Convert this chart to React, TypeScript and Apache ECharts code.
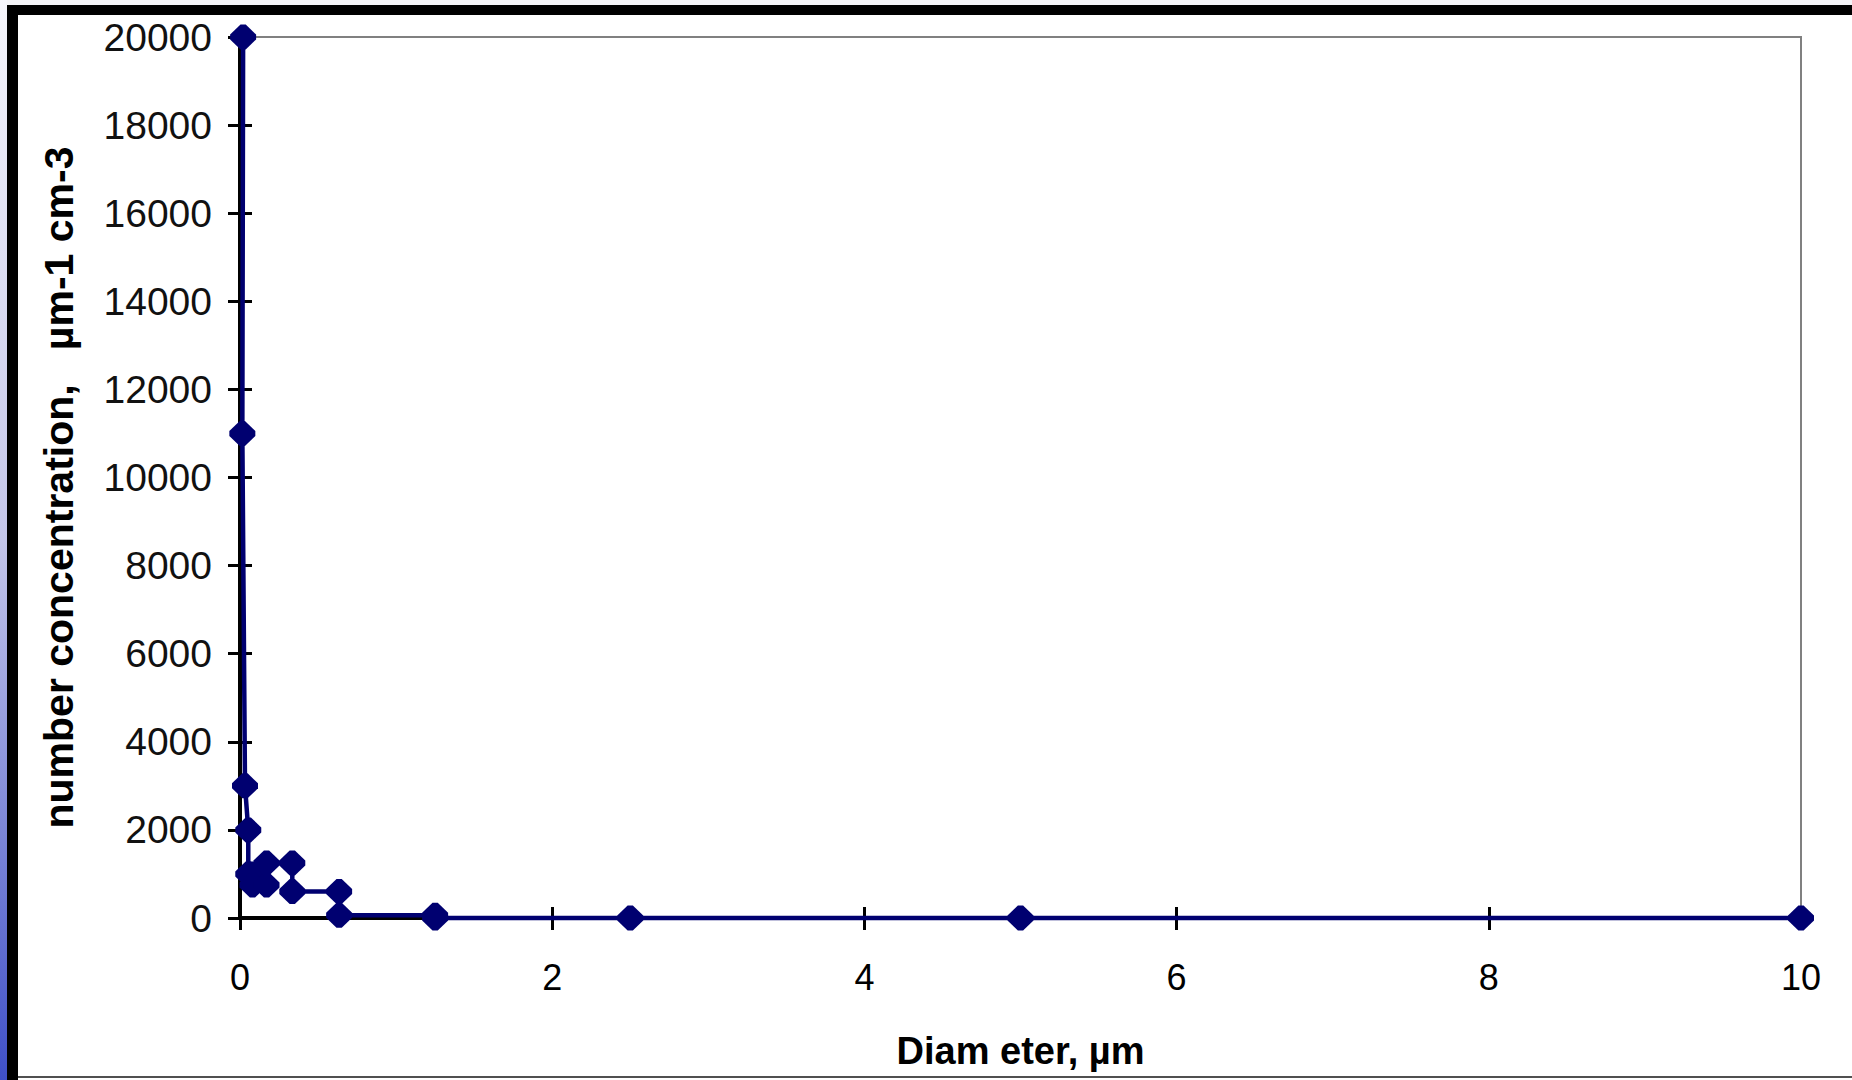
import React, { useEffect, useRef } from "react";
import * as echarts from "echarts";

// Diameter (µm) and number concentration (µm-1 cm-3), read along the plotted path
const diameterUm = [0.02, 0.015, 0.032, 0.053, 0.053, 0.08, 0.08, 0.17, 0.17, 0.335, 0.335, 0.635, 0.635, 1.25, 1.25, 2.5, 5, 10];
const concentration = [20000, 11000, 3000, 2000, 1000, 1000, 750, 750, 1250, 1250, 600, 600, 60, 60, 0, 0, 0, 0];

// Axis ranges / ticks
const xMin = 0;
const xMax = 10;
const xStep = 2;
const yMin = 0;
const yMax = 20000;
const yStep = 2000;

const xTitle = "Diam eter, µm";
const yTitle = "number concentration,   µm-1 cm-3";

const FONT = "'Liberation Sans', Arial, Helvetica, sans-serif";
const NAVY = "#000070";
const FAT_DIAMOND = "path://M4,0 L6,0 L10,4 L10,6 L6,10 L4,10 L0,6 L0,4 Z";

export default function App() {
  const ref = useRef<HTMLDivElement>(null);

  useEffect(() => {
    if (!ref.current) return;
    const chart = echarts.init(ref.current, null, { renderer: "svg" });
    const data = diameterUm.map((d, i) => [d, concentration[i]]);
    const tickLine = { color: "#000", width: 3 };
    const plain = (v: number) => String(v);

    chart.setOption({
      animation: false,
      backgroundColor: "#ffffff",
      grid: {
        left: 240,
        right: 51,
        top: 37,
        bottom: 162,
        show: true,
        borderColor: "#808080",
        borderWidth: 2,
        backgroundColor: "transparent",
      },
      xAxis: [
        {
          type: "value",
          min: xMin,
          max: xMax,
          interval: xStep,
          position: "bottom",
          axisLine: { show: true, onZero: false, lineStyle: { color: "#000", width: 4 } },
          axisTick: { show: true, length: 12, lineStyle: tickLine },
          axisLabel: { margin: 41, fontSize: 36, color: "#000", fontFamily: FONT, formatter: plain },
          splitLine: { show: false },
          name: xTitle,
          nameLocation: "middle",
          nameGap: 114,
          nameTextStyle: { fontSize: 38, fontWeight: "bold", color: "#000", fontFamily: FONT },
        },
        {
          type: "value",
          min: xMin,
          max: xMax,
          interval: xStep,
          position: "bottom",
          axisLine: { show: false },
          axisTick: { show: true, inside: true, length: 11, lineStyle: tickLine },
          axisLabel: { show: false },
          splitLine: { show: false },
        },
      ],
      yAxis: [
        {
          type: "value",
          min: yMin,
          max: yMax,
          interval: yStep,
          position: "left",
          axisLine: { show: true, onZero: false, lineStyle: { color: "#000", width: 4 } },
          axisTick: { show: true, length: 12, lineStyle: tickLine },
          axisLabel: { margin: 28, fontSize: 39, color: "#111", fontFamily: FONT, formatter: plain },
          splitLine: { show: false },
          name: yTitle,
          nameLocation: "middle",
          nameGap: 161,
          nameTextStyle: {
            fontSize: 41,
            fontWeight: "bold",
            color: "#000",
            fontFamily: FONT,
            padding: [0, 20, 0, 0],
          },
        },
        {
          type: "value",
          min: yMin,
          max: yMax,
          interval: yStep,
          position: "left",
          axisLine: { show: false },
          axisTick: { show: true, inside: true, length: 12, lineStyle: tickLine },
          axisLabel: { show: false },
          splitLine: { show: false },
        },
      ],
      series: [
        {
          type: "line",
          xAxisIndex: 0,
          yAxisIndex: 0,
          data,
          symbol: FAT_DIAMOND,
          symbolSize: [26, 25],
          symbolKeepAspect: false,
          lineStyle: { color: NAVY, width: 4.5 },
          itemStyle: { color: NAVY },
          clip: false,
          z: 5,
        },
      ],
      graphic: [
        { type: "rect", shape: { x: 0, y: 0, width: 1852, height: 5 }, style: { fill: "#f4f4f8" } },
        {
          type: "rect",
          shape: { x: 0, y: 0, width: 7, height: 1080 },
          style: {
            fill: new echarts.graphic.LinearGradient(0, 0, 0, 1, [
              { offset: 0, color: "#f6f6fc" },
              { offset: 0.5, color: "#c4c6ea" },
              { offset: 1, color: "#3f50c8" },
            ]),
          },
        },
        { type: "rect", shape: { x: 7, y: 5, width: 1845, height: 10 }, style: { fill: "#000" } },
        { type: "rect", shape: { x: 7, y: 5, width: 11, height: 1075 }, style: { fill: "#000" } },
        { type: "rect", shape: { x: 18, y: 1076, width: 1834, height: 2 }, style: { fill: "#505050" } },
      ],
    });

    return () => chart.dispose();
  }, []);

  return (
    <div
      ref={ref}
      style={{ position: "fixed", left: 0, top: 0, width: 1852, height: 1080 }}
    />
  );
}
